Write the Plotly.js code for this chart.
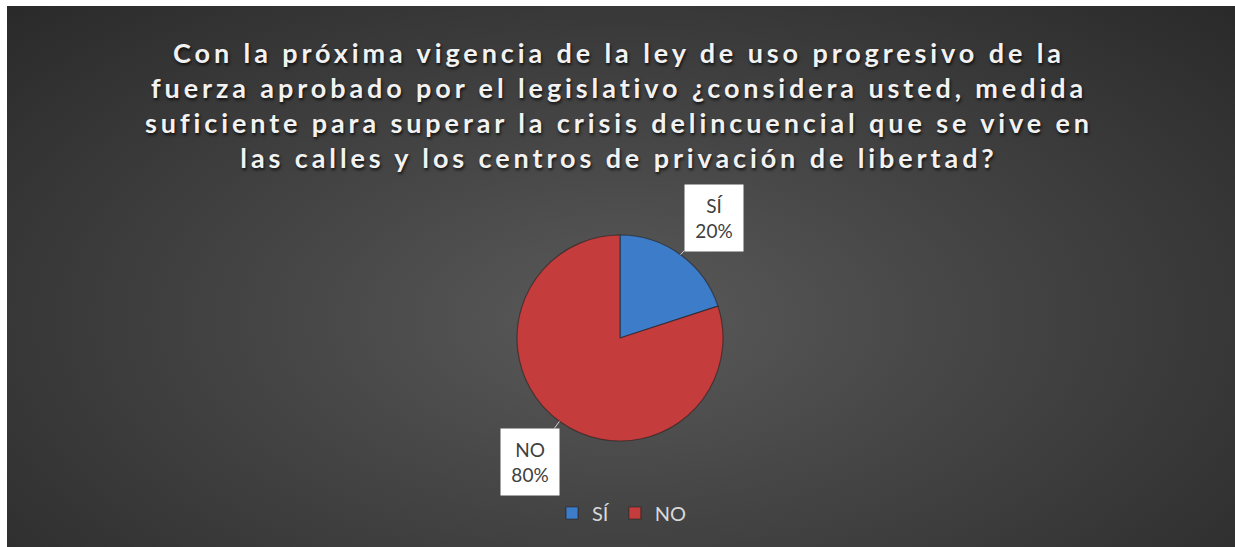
<!DOCTYPE html>
<html>
<head>
<meta charset="utf-8">
<script src="https://cdn.plot.ly/plotly-3.0.1.min.js"></script>
<style>
  html, body { margin: 0; padding: 0; background: #ffffff; }
  #chart {
    position: absolute; left: 7px; top: 6px; width: 1228px; height: 541px;
    background: radial-gradient(ellipse 75% 90% at 50% 58%, #5a5a5a 0%, #474747 35%, #262626 100%);
  }
</style>
</head>
<body>
<div id="chart"></div>
<script>
const titleText = "Con la próxima vigencia de la ley de uso progresivo de la<br>fuerza aprobado por el legislativo ¿considera usted, medida<br>suficiente para superar la crisis delincuencial que se vive en<br>las calles y los centros de privación de libertad?";
const categories = ["SÍ", "NO"];
const values = [20, 80];
const colors = ["#3d7cc9", "#c53c3c"];

const W = 1228, H = 541;
const cx = 613, cy = 332, R = 103;   // pie centre & radius in px
const labelGap = 50;

const total = values.reduce((a, b) => a + b, 0);
const annotations = [];
let cum = 0;
values.forEach((v, i) => {
  const startDeg = 90 - (cum / total) * 360;
  cum += v;
  const endDeg = 90 - (cum / total) * 360;
  const mid = (startDeg + endDeg) / 2 * Math.PI / 180;
  const pct = Math.round(v / total * 100);
  annotations.push({
    xref: "paper", yref: "paper",
    x: cx / W, y: 1 - cy / H,
    xshift: R * Math.cos(mid), yshift: R * Math.sin(mid),
    ax: labelGap * Math.cos(mid) + (i === 0 ? 4 : 0), ay: -labelGap * Math.sin(mid) + (i === 0 ? 4 : 0),
    axref: "pixel", ayref: "pixel",
    showarrow: true, arrowhead: 0, arrowwidth: 1, arrowcolor: "#d0d0d0", standoff: 0,
    text: categories[i] + "<br>" + pct + "%",
    font: { family: "Lato, 'Open Sans', sans-serif", size: 19, color: "#404040" },
    bgcolor: "#ffffff", borderpad: 4, width: 50, height: 58,
    align: "center", valign: "middle"
  });
});

const data = [{
  type: "pie",
  labels: categories,
  values: values,
  sort: false,
  direction: "clockwise",
  rotation: 0,
  textinfo: "none",
  hoverinfo: "label+percent",
  marker: { colors: colors, line: { color: "rgba(30,30,30,0.55)", width: 1.2 } },
  domain: { x: [(cx - R) / W, (cx + R) / W], y: [1 - (cy + R) / H, 1 - (cy - R) / H] }
}];

const layout = {
  width: W, height: H,
  paper_bgcolor: "rgba(0,0,0,0)",
  plot_bgcolor: "rgba(0,0,0,0)",
  margin: { l: 0, r: 0, t: 0, b: 0 },
  title: {
    text: titleText,
    x: (cx - 1) / W, xanchor: "center",
    y: 1 - 57 / H, yanchor: "top", yref: "container",
    font: { family: "Lato, 'Open Sans', sans-serif", size: 27, weight: 700, color: "#f2f2f2",
            shadow: "1px 2px 3px rgba(0,0,0,0.75)" }
  },
  showlegend: true,
  legend: {
    orientation: "h", x: (cx + 2) / W, xanchor: "center", y: 1 - 507 / H, yanchor: "middle",
    font: { family: "Lato, 'Open Sans', sans-serif", size: 20, color: "#d9d9d9" },
    bgcolor: "rgba(0,0,0,0)", itemwidth: 30
  },
  annotations: annotations
};

function spaceTitle() {
  document.querySelectorAll("#chart .gtitle").forEach(el => {
    el.style.letterSpacing = "3.9px";
  });
}
Plotly.newPlot("chart", data, layout, { displayModeBar: false, responsive: false }).then(spaceTitle);
</script>
</body>
</html>
